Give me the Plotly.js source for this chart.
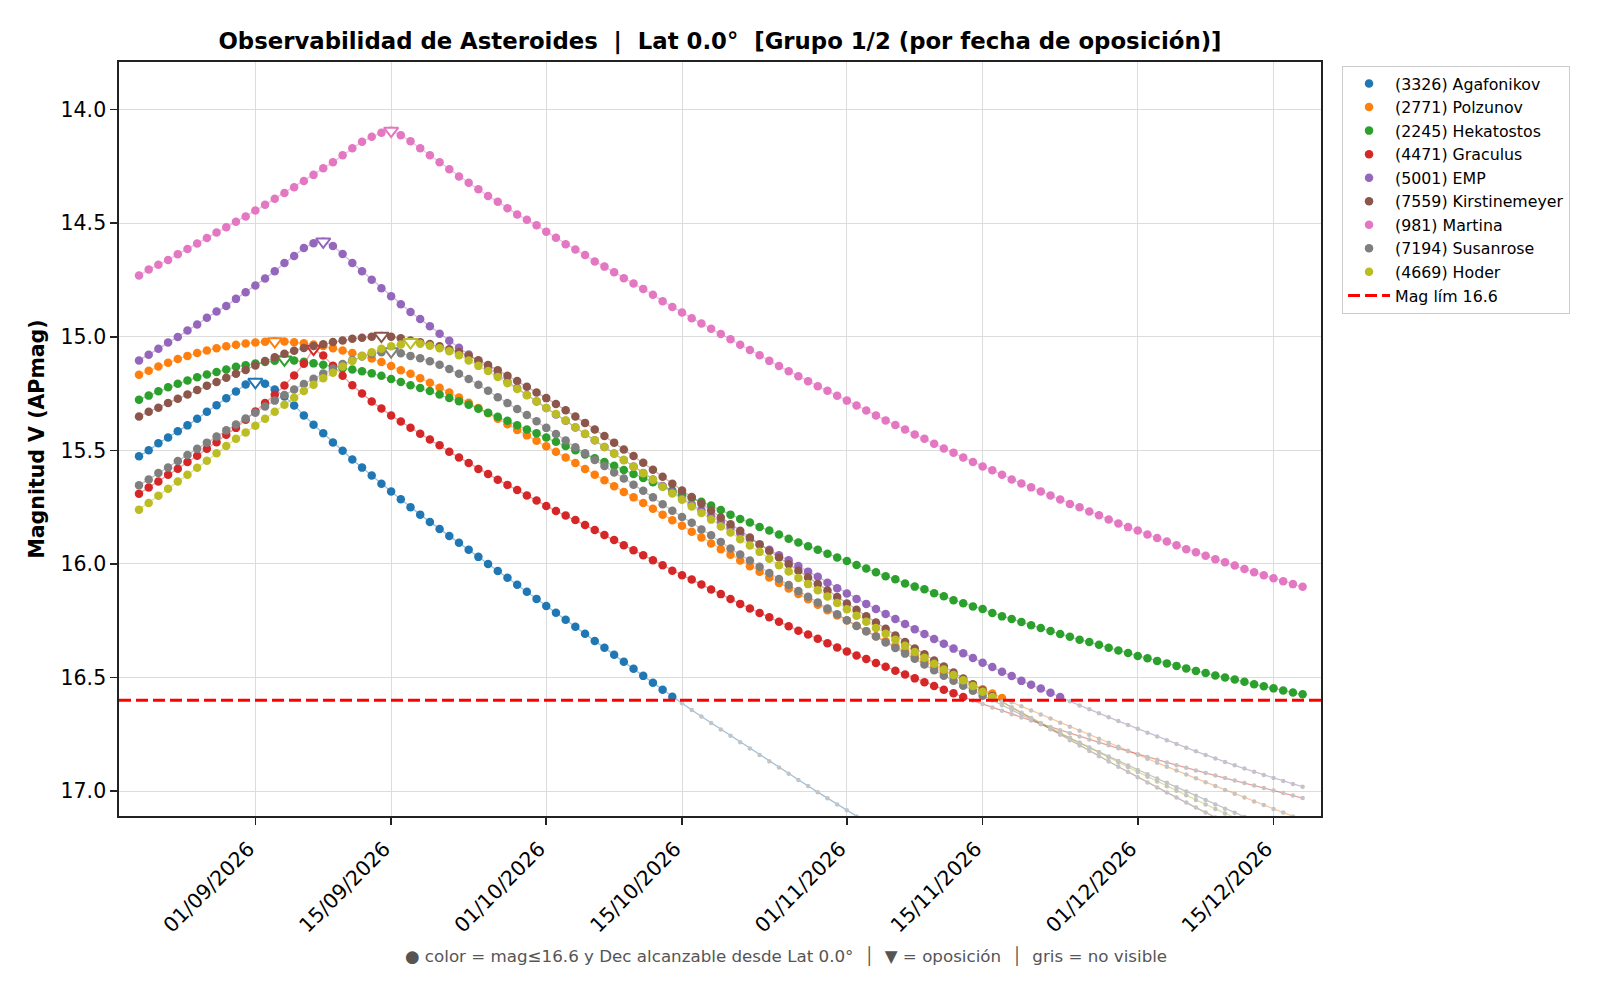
<!DOCTYPE html>
<html>
<head>
<meta charset="utf-8">
<script src="https://cdn.plot.ly/plotly-3.0.1.min.js"></script>
<style>
  html, body { margin: 0; padding: 0; background: #fff; }
  #grafico { width: 1609px; height: 994px; }
</style>
</head>
<body>
<div id="grafico"></div>
<script>
// Primer día de las efemérides; cada serie tiene un valor por día.
const FECHA_INICIO = '2026-08-20';
const MAG_LIM = 16.6;

const nombres = [
  '(3326) Agafonikov', '(2771) Polzunov', '(2245) Hekatostos', '(4471) Graculus', '(5001) EMP',
  '(7559) Kirstinemeyer', '(981) Martina', '(7194) Susanrose', '(4669) Hoder'
];
const colores = ['#1f77b4', '#ff7f0e', '#2ca02c', '#d62728', '#9467bd', '#8c564b', '#e377c2', '#7f7f7f', '#bcbd22'];
const oposiciones = [
  '2026-09-01', '2026-09-03', '2026-09-04', '2026-09-07', '2026-09-08',
  '2026-09-14', '2026-09-15', '2026-09-15', '2026-09-17'
];

const ticksX = ['2026-09-01', '2026-09-15', '2026-10-01', '2026-10-15', '2026-11-01', '2026-11-15', '2026-12-01', '2026-12-15'];
const etiquetasX = ['01/09/2026', '15/09/2026', '01/10/2026', '15/10/2026', '01/11/2026', '15/11/2026', '01/12/2026', '15/12/2026'];

const magAgafonikov = [
  15.526, 15.500, 15.469, 15.443, 15.416, 15.390, 15.361, 15.330, 15.301, 15.271,
  15.241, 15.210, 15.199, 15.207, 15.232, 15.263, 15.302, 15.346, 15.387, 15.425,
  15.465, 15.502, 15.540, 15.576, 15.611, 15.647, 15.681, 15.715, 15.750, 15.783,
  15.815, 15.846, 15.877, 15.907, 15.938, 15.969, 16.000, 16.031, 16.061, 16.092,
  16.123, 16.154, 16.185, 16.215, 16.246, 16.277, 16.308, 16.339, 16.369, 16.400,
  16.431, 16.462, 16.493, 16.523, 16.554, 16.585, 16.614, 16.643, 16.672, 16.700,
  16.729, 16.757, 16.785, 16.813, 16.841, 16.869, 16.896, 16.924, 16.951, 16.978,
  17.005, 17.032, 17.059, 17.085, 17.112, 17.138, 17.164, 17.190, 17.216, 17.241,
  17.267, 17.292, 17.317, 17.342, 17.367, 17.391, 17.416, 17.440, 17.464, 17.488,
  17.511, 17.535, 17.558, 17.581, 17.604, 17.627, 17.649, 17.672, 17.694, 17.716,
  17.738, 17.759, 17.781, 17.802, 17.823, 17.844, 17.864, 17.885, 17.905, 17.925,
  17.945, 17.965, 17.984, 18.004, 18.023, 18.042, 18.061, 18.079, 18.098, 18.116,
  18.134
];
const magPolzunov = [
  15.167, 15.149, 15.131, 15.114, 15.098, 15.084, 15.071, 15.060, 15.050, 15.042,
  15.035, 15.029, 15.025, 15.022, 15.020, 15.021, 15.024, 15.028, 15.034, 15.041,
  15.050, 15.060, 15.071, 15.083, 15.096, 15.111, 15.129, 15.147, 15.163, 15.182,
  15.202, 15.224, 15.245, 15.267, 15.290, 15.314, 15.337, 15.361, 15.385, 15.410,
  15.434, 15.458, 15.482, 15.506, 15.531, 15.556, 15.582, 15.607, 15.632, 15.658,
  15.683, 15.707, 15.732, 15.757, 15.783, 15.808, 15.832, 15.858, 15.884, 15.910,
  15.935, 15.960, 15.985, 16.010, 16.035, 16.060, 16.084, 16.108, 16.132, 16.156,
  16.180, 16.204, 16.227, 16.249, 16.272, 16.296, 16.319, 16.341, 16.363, 16.385,
  16.407, 16.429, 16.450, 16.471, 16.492, 16.513, 16.533, 16.552, 16.571, 16.590,
  16.609, 16.627, 16.645, 16.663, 16.681, 16.699, 16.717, 16.735, 16.752, 16.770,
  16.788, 16.805, 16.823, 16.840, 16.858, 16.875, 16.893, 16.910, 16.927, 16.944,
  16.961, 16.978, 16.995, 17.012, 17.029, 17.046, 17.062, 17.079, 17.095, 17.112,
  17.128
];
const magHekatostos = [
  15.277, 15.259, 15.240, 15.222, 15.207, 15.192, 15.178, 15.166, 15.155, 15.144,
  15.132, 15.125, 15.118, 15.111, 15.105, 15.100, 15.104, 15.110, 15.117, 15.123,
  15.130, 15.138, 15.144, 15.152, 15.161, 15.172, 15.186, 15.199, 15.213, 15.225,
  15.239, 15.254, 15.269, 15.284, 15.299, 15.317, 15.334, 15.352, 15.370, 15.389,
  15.408, 15.425, 15.443, 15.462, 15.481, 15.500, 15.518, 15.535, 15.551, 15.568,
  15.586, 15.604, 15.622, 15.640, 15.659, 15.677, 15.694, 15.710, 15.726, 15.743,
  15.763, 15.783, 15.802, 15.818, 15.837, 15.853, 15.871, 15.889, 15.906, 15.922,
  15.938, 15.955, 15.972, 15.987, 16.005, 16.020, 16.037, 16.054, 16.068, 16.086,
  16.100, 16.112, 16.129, 16.142, 16.160, 16.173, 16.187, 16.199, 16.216, 16.231,
  16.243, 16.256, 16.270, 16.282, 16.295, 16.309, 16.321, 16.334, 16.344, 16.356,
  16.369, 16.381, 16.392, 16.405, 16.415, 16.427, 16.438, 16.449, 16.460, 16.471,
  16.480, 16.491, 16.500, 16.509, 16.519, 16.530, 16.539, 16.548, 16.557, 16.566,
  16.574
];
const magGraculus = [
  15.691, 15.664, 15.637, 15.607, 15.581, 15.551, 15.524, 15.493, 15.464, 15.431,
  15.401, 15.365, 15.329, 15.292, 15.255, 15.214, 15.170, 15.119, 15.053, 15.082,
  15.128, 15.172, 15.213, 15.250, 15.285, 15.316, 15.347, 15.373, 15.400, 15.427,
  15.452, 15.478, 15.506, 15.531, 15.556, 15.582, 15.604, 15.629, 15.652, 15.675,
  15.699, 15.721, 15.745, 15.767, 15.787, 15.807, 15.829, 15.851, 15.873, 15.895,
  15.918, 15.940, 15.962, 15.984, 16.006, 16.030, 16.050, 16.069, 16.091, 16.113,
  16.133, 16.155, 16.176, 16.196, 16.216, 16.235, 16.255, 16.274, 16.294, 16.311,
  16.330, 16.349, 16.368, 16.386, 16.403, 16.419, 16.436, 16.453, 16.470, 16.487,
  16.504, 16.521, 16.538, 16.554, 16.570, 16.586, 16.602, 16.617, 16.632, 16.647,
  16.662, 16.676, 16.690, 16.704, 16.718, 16.732, 16.746, 16.760, 16.773, 16.786,
  16.799, 16.812, 16.825, 16.838, 16.850, 16.862, 16.874, 16.886, 16.898, 16.910,
  16.921, 16.932, 16.943, 16.954, 16.965, 16.976, 16.987, 16.998, 17.009, 17.020,
  17.031
];
const magEMP = [
  15.104, 15.079, 15.053, 15.025, 15.001, 14.972, 14.946, 14.916, 14.889, 14.864,
  14.833, 14.804, 14.774, 14.743, 14.711, 14.675, 14.644, 14.609, 14.588, 14.581,
  14.600, 14.635, 14.675, 14.711, 14.749, 14.786, 14.821, 14.857, 14.891, 14.922,
  14.954, 14.987, 15.017, 15.048, 15.078, 15.108, 15.138, 15.168, 15.198, 15.227,
  15.256, 15.285, 15.314, 15.342, 15.370, 15.399, 15.428, 15.456, 15.485, 15.514,
  15.542, 15.571, 15.600, 15.628, 15.657, 15.685, 15.712, 15.738, 15.764, 15.790,
  15.815, 15.840, 15.865, 15.890, 15.914, 15.938, 15.962, 15.984, 16.009, 16.034,
  16.057, 16.083, 16.107, 16.130, 16.154, 16.176, 16.199, 16.221, 16.243, 16.265,
  16.288, 16.309, 16.331, 16.352, 16.373, 16.393, 16.414, 16.435, 16.454, 16.475,
  16.494, 16.515, 16.532, 16.549, 16.567, 16.586, 16.605, 16.623, 16.640, 16.658,
  16.675, 16.692, 16.709, 16.726, 16.743, 16.760, 16.777, 16.793, 16.809, 16.825,
  16.841, 16.857, 16.872, 16.887, 16.901, 16.915, 16.929, 16.943, 16.956, 16.969,
  16.981
];
const magKirstinemeyer = [
  15.351, 15.330, 15.312, 15.291, 15.273, 15.254, 15.234, 15.215, 15.199, 15.180,
  15.163, 15.146, 15.126, 15.107, 15.090, 15.075, 15.061, 15.049, 15.041, 15.033,
  15.023, 15.016, 15.009, 15.004, 15.000, 14.996, 15.000, 15.006, 15.016, 15.024,
  15.032, 15.042, 15.055, 15.067, 15.083, 15.103, 15.124, 15.147, 15.171, 15.195,
  15.220, 15.245, 15.270, 15.296, 15.323, 15.351, 15.379, 15.408, 15.437, 15.466,
  15.496, 15.525, 15.555, 15.585, 15.616, 15.647, 15.677, 15.705, 15.735, 15.765,
  15.796, 15.825, 15.854, 15.884, 15.914, 15.943, 15.972, 16.001, 16.030, 16.060,
  16.089, 16.117, 16.146, 16.174, 16.202, 16.230, 16.258, 16.286, 16.315, 16.344,
  16.372, 16.398, 16.425, 16.452, 16.478, 16.505, 16.530, 16.556, 16.582, 16.607,
  16.632, 16.656, 16.680, 16.704, 16.728, 16.752, 16.776, 16.800, 16.824, 16.847,
  16.870, 16.893, 16.916, 16.939, 16.962, 16.985, 17.007, 17.029, 17.051, 17.073,
  17.095, 17.117, 17.139, 17.160, 17.181, 17.202, 17.223, 17.244, 17.264, 17.284,
  17.304
];
const magMartina = [
  14.730, 14.704, 14.683, 14.662, 14.636, 14.613, 14.589, 14.565, 14.541, 14.518,
  14.493, 14.470, 14.444, 14.419, 14.392, 14.367, 14.341, 14.314, 14.287, 14.258,
  14.231, 14.201, 14.170, 14.141, 14.119, 14.102, 14.093, 14.112, 14.139, 14.170,
  14.201, 14.231, 14.262, 14.294, 14.322, 14.350, 14.380, 14.405, 14.434, 14.461,
  14.485, 14.509, 14.537, 14.564, 14.592, 14.616, 14.640, 14.668, 14.691, 14.716,
  14.742, 14.765, 14.789, 14.815, 14.843, 14.869, 14.893, 14.918, 14.941, 14.965,
  14.988, 15.011, 15.035, 15.058, 15.081, 15.106, 15.129, 15.152, 15.174, 15.196,
  15.218, 15.238, 15.260, 15.281, 15.302, 15.325, 15.346, 15.368, 15.388, 15.408,
  15.430, 15.449, 15.471, 15.492, 15.510, 15.531, 15.551, 15.571, 15.588, 15.607,
  15.628, 15.646, 15.663, 15.681, 15.699, 15.716, 15.736, 15.751, 15.769, 15.786,
  15.804, 15.822, 15.838, 15.853, 15.870, 15.886, 15.901, 15.918, 15.935, 15.949,
  15.964, 15.979, 15.993, 16.007, 16.022, 16.037, 16.050, 16.063, 16.076, 16.089,
  16.101
];
const magSusanrose = [
  15.654, 15.628, 15.600, 15.575, 15.547, 15.520, 15.493, 15.466, 15.439, 15.412,
  15.386, 15.360, 15.334, 15.307, 15.281, 15.256, 15.232, 15.208, 15.185, 15.162,
  15.140, 15.120, 15.102, 15.087, 15.076, 15.068, 15.064, 15.072, 15.084, 15.094,
  15.108, 15.123, 15.142, 15.163, 15.186, 15.211, 15.238, 15.266, 15.292, 15.318,
  15.344, 15.372, 15.401, 15.428, 15.457, 15.486, 15.513, 15.542, 15.569, 15.598,
  15.624, 15.651, 15.678, 15.707, 15.737, 15.766, 15.793, 15.819, 15.848, 15.874,
  15.903, 15.932, 15.959, 15.985, 16.013, 16.040, 16.066, 16.093, 16.119, 16.145,
  16.170, 16.196, 16.222, 16.248, 16.273, 16.296, 16.320, 16.346, 16.370, 16.395,
  16.418, 16.443, 16.468, 16.492, 16.514, 16.536, 16.558, 16.580, 16.601, 16.622,
  16.643, 16.664, 16.685, 16.706, 16.727, 16.748, 16.768, 16.788, 16.808, 16.828,
  16.848, 16.868, 16.888, 16.907, 16.926, 16.945, 16.964, 16.983, 17.002, 17.021,
  17.040, 17.059, 17.078, 17.096, 17.114, 17.132, 17.150, 17.168, 17.186, 17.204,
  17.222
];
const magHoder = [
  15.761, 15.732, 15.700, 15.669, 15.637, 15.607, 15.577, 15.546, 15.513, 15.481,
  15.449, 15.421, 15.392, 15.361, 15.330, 15.299, 15.268, 15.239, 15.211, 15.183,
  15.158, 15.131, 15.107, 15.086, 15.068, 15.053, 15.042, 15.034, 15.024, 15.031,
  15.039, 15.050, 15.064, 15.081, 15.104, 15.128, 15.151, 15.177, 15.204, 15.230,
  15.257, 15.284, 15.313, 15.340, 15.368, 15.398, 15.427, 15.455, 15.485, 15.515,
  15.543, 15.572, 15.601, 15.629, 15.660, 15.690, 15.717, 15.747, 15.776, 15.805,
  15.835, 15.862, 15.891, 15.919, 15.947, 15.977, 16.006, 16.033, 16.062, 16.089,
  16.116, 16.143, 16.172, 16.200, 16.228, 16.255, 16.282, 16.308, 16.334, 16.360,
  16.388, 16.413, 16.440, 16.465, 16.489, 16.512, 16.538, 16.563, 16.586, 16.609,
  16.632, 16.655, 16.678, 16.700, 16.722, 16.744, 16.766, 16.788, 16.810, 16.832,
  16.853, 16.874, 16.895, 16.916, 16.937, 16.958, 16.979, 16.999, 17.019, 17.039,
  17.059, 17.079, 17.099, 17.119, 17.138, 17.157, 17.176, 17.195, 17.214, 17.233,
  17.251
];

const series = [magAgafonikov, magPolzunov, magHekatostos, magGraculus, magEMP,
  magKirstinemeyer, magMartina, magSusanrose, magHoder];

// Fechas diarias a partir de FECHA_INICIO, una por valor.
const inicio = new Date(FECHA_INICIO + 'T00:00:00Z');
const fechas = magAgafonikov.map((_, i) => {
  const d = new Date(inicio.getTime() + i * 86400000);
  return d.toISOString().slice(0, 10);
});

const FUENTE = 'DejaVu Sans, sans-serif';
const trazas = [];

series.forEach((mags, k) => {
  const color = colores[k];
  // línea fina que une todos los días
  trazas.push({
    x: fechas, y: mags, mode: 'lines', line: { color: color, width: 1.3 },
    opacity: 0.45, showlegend: false, hoverinfo: 'skip'
  });
  // días no visibles en gris
  trazas.push({
    x: fechas, y: mags.map(m => m > MAG_LIM ? m : null), mode: 'markers',
    marker: { color: '#c4c4c4', size: 4.5 }, showlegend: false, hoverinfo: 'skip'
  });
  // días visibles con el color de la serie
  trazas.push({
    x: fechas, y: mags.map(m => m <= MAG_LIM ? m : null), mode: 'markers',
    marker: { color: color, size: 8.5 }, name: nombres[k]
  });
  // triángulo (relleno blanco) en la fecha de oposición
  const iOp = fechas.indexOf(oposiciones[k]);
  trazas.push({
    x: [oposiciones[k]], y: [mags[iOp]], mode: 'markers',
    marker: { symbol: 'triangle-down', size: 12.5, color: '#ffffff', line: { color: color, width: 2 } },
    showlegend: false, hoverinfo: 'skip'
  });
});

const nb = '\u00a0';
const layout = {
  width: 1609, height: 994,
  paper_bgcolor: '#ffffff', plot_bgcolor: '#ffffff',
  margin: { l: 119, r: 288, t: 62, b: 178, pad: 0 },
  font: { family: FUENTE, color: '#000000' },
  title: {
    text: '<b>Observabilidad de Asteroides ' + nb + '|' + nb + ' Lat 0.0°' + nb + nb + '[Grupo 1/2 (por fecha de oposición)]</b>',
    font: { family: FUENTE, size: 22.8, color: '#000000' },
    x: 0.5, xref: 'paper', xanchor: 'center', y: 0.9588, yref: 'container', yanchor: 'middle'
  },
  xaxis: {
    type: 'date', range: ['2026-08-17 22:30', '2026-12-19 21:30'],
    tickmode: 'array', tickvals: ticksX, ticktext: etiquetasX, tickangle: -45,
    ticklabelshift: -7, ticklabelstandoff: 4,
    ticks: 'outside', ticklen: 7, tickwidth: 1.6, tickcolor: '#222222',
    showline: true, linecolor: '#222222', linewidth: 1.7, mirror: true,
    showgrid: true, gridcolor: '#dcdcdc', gridwidth: 1, zeroline: false,
    tickfont: { family: FUENTE, size: 20.5, color: '#000000' }
  },
  yaxis: {
    range: [17.11, 13.79], tick0: 14, dtick: 0.5, tickformat: '.1f',
    ticks: 'outside', ticklen: 7, tickwidth: 1.6, tickcolor: '#222222',
    showline: true, linecolor: '#222222', linewidth: 1.7, mirror: true,
    showgrid: true, gridcolor: '#dcdcdc', gridwidth: 1, zeroline: false,
    tickfont: { family: FUENTE, size: 20.5, color: '#000000' },
    title: { text: '<b>Magnitud V (APmag)</b>', font: { family: FUENTE, size: 20.5, color: '#000000' }, standoff: 10 },
    automargin: false
  },
  legend: {
    x: 1.0175, xanchor: 'left', y: 0.995, yanchor: 'top',
    bgcolor: '#ffffff', bordercolor: '#cccccc', borderwidth: 1,
    font: { family: FUENTE, size: 15.8, color: '#000000' },
    traceorder: 'normal', itemwidth: 42
  },
  shapes: [{
    type: 'line', xref: 'paper', x0: 0, x1: 1, yref: 'y', y0: MAG_LIM, y1: MAG_LIM,
    line: { color: '#ff0000', width: 3, dash: '12px,5px' }, layer: 'above',
    showlegend: true, name: 'Mag lím ' + MAG_LIM.toFixed(1), legendrank: 2000
  }],
  annotations: [{
    text: '● color = mag≤' + MAG_LIM.toFixed(1) + ' y Dec alcanzable desde Lat 0.0°' + nb + nb + '│' + nb + nb + '▼ = oposición' + nb + nb + '│' + nb + nb + 'gris = no visible',
    xref: 'paper', yref: 'paper', x: 0.555, y: -0.186, xanchor: 'center', yanchor: 'middle',
    showarrow: false, font: { family: FUENTE, size: 16.7, color: '#555555' }
  }]
};

Plotly.newPlot('grafico', trazas, layout, { displayModeBar: false, staticPlot: true });
</script>
</body>
</html>
